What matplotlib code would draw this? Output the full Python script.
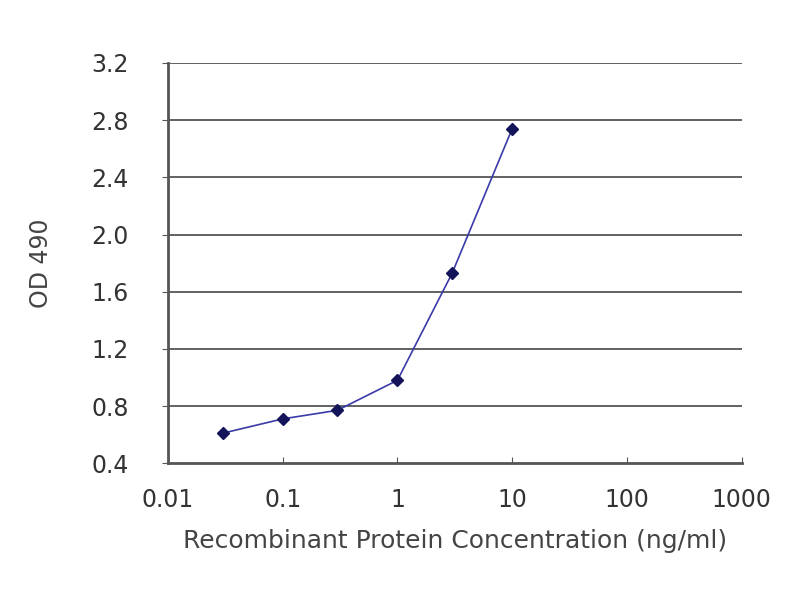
import matplotlib
matplotlib.use("Agg")
import matplotlib.pyplot as plt
from matplotlib.ticker import FixedLocator, FixedFormatter

plt.rcParams['font.family'] = ['DejaVu Sans']

conc = [0.03, 0.1, 0.3, 1, 3, 10]
od = [0.61, 0.71, 0.77, 0.98, 1.73, 2.74]
xticks = [0.01, 0.1, 1, 10, 100, 1000]
xlabels = ['0.01', '0.1', '1', '10', '100', '1000']
yticks = [0.4, 0.8, 1.2, 1.6, 2.0, 2.4, 2.8, 3.2]

fig = plt.figure(figsize=(8, 6), dpi=100)
ax = fig.add_axes([0.21, 0.228, 0.717, 0.667])

ax.plot(conc, od, color='#3a3aa8', lw=1.2, marker='D', ms=6,
        mfc='#14145a', mec='#14145a', zorder=3)

ax.set_xscale('log')
ax.set_xlim(0.01, 1000)
ax.set_ylim(0.4, 3.2)
ax.xaxis.set_major_locator(FixedLocator(xticks))
ax.xaxis.set_major_formatter(FixedFormatter(xlabels))
ax.xaxis.set_minor_locator(FixedLocator([]))
ax.set_yticks(yticks)
ax.set_yticklabels(['%.1f' % v for v in yticks])

for v in yticks[1:]:
    ax.axhline(v, color='#555555', lw=1.3, zorder=1)

for s in ['top', 'right']:
    ax.spines[s].set_visible(False)
ax.spines['left'].set_color('#555555')
ax.spines['bottom'].set_color('#555555')
ax.spines['left'].set_linewidth(2)
ax.spines['bottom'].set_linewidth(2)

ax.tick_params(axis='x', direction='in', length=4, color='#555555',
               labelsize=17, pad=18, labelcolor='#333333')
ax.tick_params(axis='y', direction='out', length=4, color='#555555',
               labelsize=17, pad=24, labelcolor='#333333')

ax.set_xlabel('Recombinant Protein Concentration (ng/ml)', fontsize=18,
              color='#444444', labelpad=12)
ax.set_ylabel('OD 490', fontsize=17, color='#444444', labelpad=28)

fig.savefig('out.png', dpi=100)
